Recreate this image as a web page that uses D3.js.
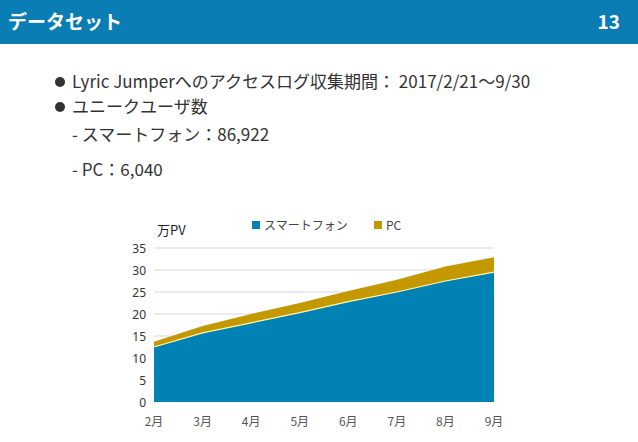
<!DOCTYPE html>
<html><head><meta charset="utf-8">
<script src="https://cdn.jsdelivr.net/npm/d3@7"></script>
<style>body{margin:0;background:#fff;font-family:"Noto Sans CJK JP","Noto Sans",sans-serif}</style>
</head><body>
<svg id="c" width="638" height="442"></svg>
<script>
// data (万PV)
var months = ["2月","3月","4月","5月","6月","7月","8月","9月"];
var phone = [12.5, 15.7, 18.0, 20.3, 22.8, 25.0, 27.5, 29.5];
var pc = [1.2, 1.6, 2.0, 2.2, 2.4, 2.8, 3.3, 3.4];
var yTicks = [0, 5, 10, 15, 20, 25, 30, 35];
var seriesNames = ["スマートフォン", "PC"];
var colors = ["#0083b4", "#c49800"];

var svg = d3.select("#c");

// header bar
svg.append("rect").attr("width", 638).attr("height", 44).attr("fill", "#0a7db5");
svg.append("text").attr("x", 8).attr("y", 29).attr("fill", "#fff")
  .attr("font-size", 19).attr("font-weight", "bold").text("データセット");
svg.append("text").attr("x", 620).attr("y", 29).attr("fill", "#fff").attr("text-anchor", "end")
  .attr("font-size", 19).attr("font-weight", "bold").text("13");

// bullets
var lines = [
  {b: true, y: 88, t: "Lyric Jumperへのアクセスログ収集期間： 2017/2/21～9/30"},
  {b: true, y: 113, t: "ユニークユーザ数"},
  {b: false, y: 141, t: "- スマートフォン：86,922"},
  {b: false, y: 176, t: "- PC：6,040"}
];
lines.forEach(function(l) {
  if (l.b) svg.append("circle").attr("cx", 60).attr("cy", l.y - 6).attr("r", 5).attr("fill", "#333");
  svg.append("text").attr("x", l.b ? 72 : 72).attr("y", l.y).attr("font-size", 17)
    .attr("fill", "#333").text(l.t);
});

// chart
var x = d3.scalePoint().domain(months).range([154, 494]);
var y = d3.scaleLinear().domain([0, 35]).range([402, 248]);

svg.append("g").selectAll("line").data(yTicks.slice(1)).join("line")
  .attr("x1", 154).attr("x2", 494).attr("y1", y).attr("y2", y)
  .attr("stroke", "#d9d9d9");

var rows = months.map(function(m, i) { return {m: m, phone: phone[i], pc: pc[i]}; });
var stack = d3.stack().keys(["phone", "pc"])(rows);
var area = d3.area().x(function(d) { return x(d.data.m); })
  .y0(function(d) { return y(d[0]); }).y1(function(d) { return y(d[1]); });

svg.append("g").selectAll("path").data(stack).join("path")
  .attr("d", area).attr("fill", function(d, i) { return colors[i]; });
svg.append("path").datum(stack[0])
  .attr("d", d3.line().x(function(d) { return x(d.data.m); }).y(function(d) { return y(d[1]); }))
  .attr("fill", "none").attr("stroke", "#fff3b0").attr("stroke-width", 1.2);

svg.append("g").selectAll("text").data(yTicks).join("text")
  .attr("x", 146).attr("y", function(d) { return y(d) + 5; }).attr("text-anchor", "end")
  .attr("font-size", 12).attr("fill", "#333").attr("font-family", "Noto Sans").text(function(d) { return d; });
svg.append("g").selectAll("text").data(months).join("text")
  .attr("x", x).attr("y", 426).attr("text-anchor", "middle")
  .attr("font-size", 12).attr("fill", "#555").text(function(d) { return d; });

svg.append("text").attr("x", 157).attr("y", 235).attr("font-size", 13).attr("fill", "#222").text("万PV");

// legend
var lx = [252, 374];
seriesNames.forEach(function(n, i) {
  svg.append("rect").attr("x", lx[i]).attr("y", 221).attr("width", 8).attr("height", 8).attr("fill", colors[i]);
  svg.append("text").attr("x", lx[i] + 12).attr("y", 230).attr("font-size", 12).attr("fill", "#444").text(n);
});
</script>
</body></html>
